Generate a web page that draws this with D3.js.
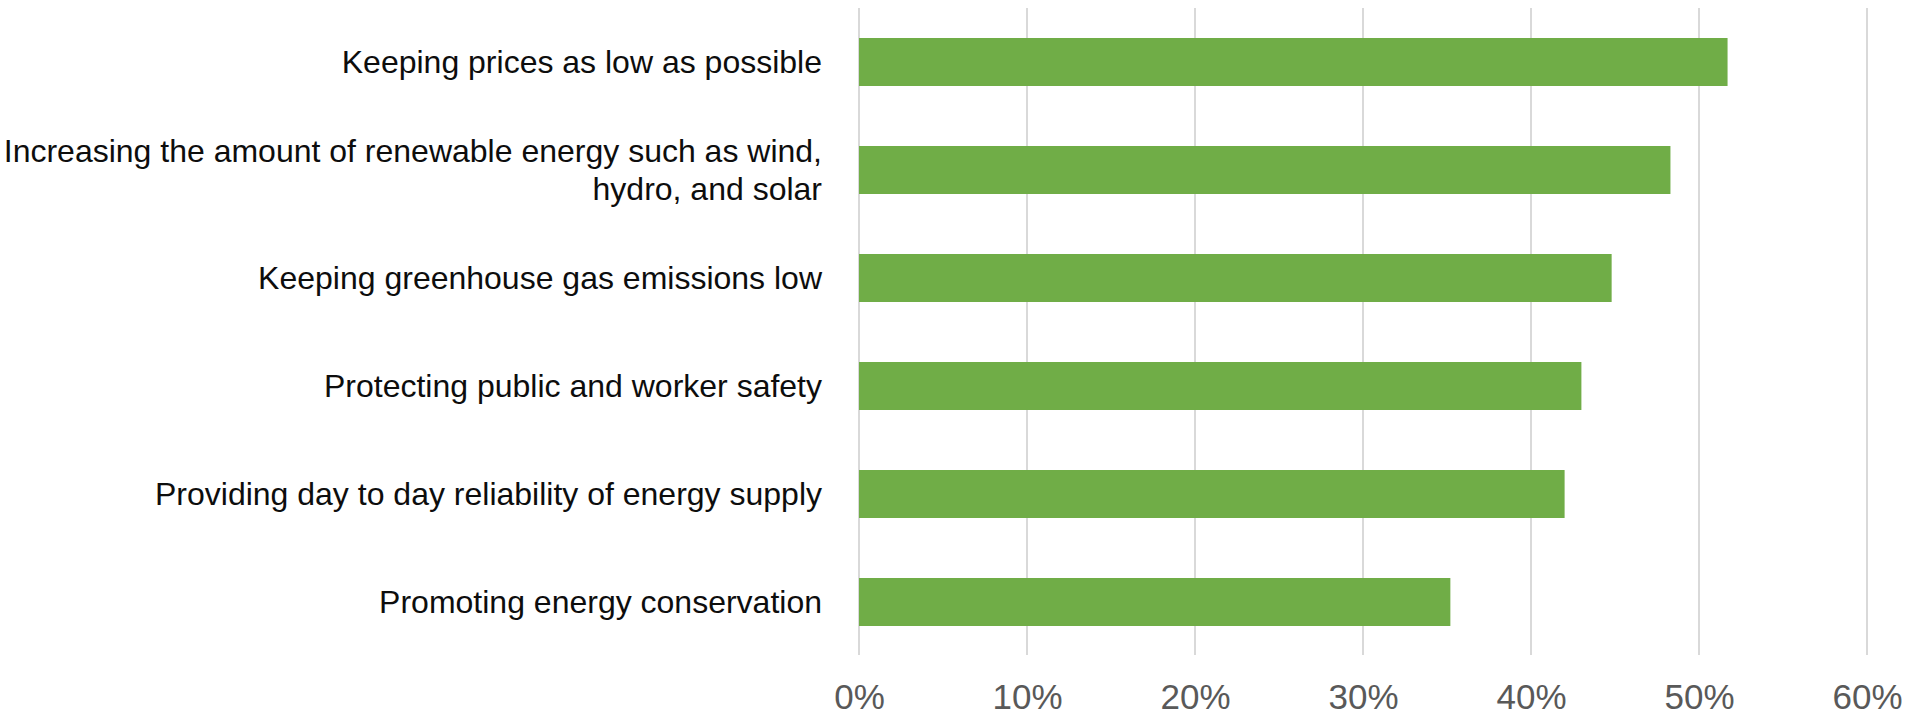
<!DOCTYPE html>
<html>
<head>
<meta charset="utf-8">
<script src="https://cdn.jsdelivr.net/npm/d3@7"></script>
<style>
  html, body { margin: 0; padding: 0; background: #ffffff; }
  svg { display: block; }
</style>
</head>
<body>
<svg id="chart" width="1909" height="718"></svg>
<script>
// Priorities for the energy system, share of respondents
const categories = [
  "Keeping prices as low as possible",
  "Increasing the amount of renewable energy such as wind, hydro, and solar",
  "Keeping greenhouse gas emissions low",
  "Protecting public and worker safety",
  "Providing day to day reliability of energy supply",
  "Promoting energy conservation"
];
// Wrapped label lines for each category
const labelLines = [
  ["Keeping prices as low as possible"],
  ["Increasing the amount of renewable energy such as wind,", "hydro, and solar"],
  ["Keeping greenhouse gas emissions low"],
  ["Protecting public and worker safety"],
  ["Providing day to day reliability of energy supply"],
  ["Promoting energy conservation"]
];
const values = [0.517, 0.483, 0.448, 0.430, 0.420, 0.352];
const tickValues = [0, 0.1, 0.2, 0.3, 0.4, 0.5, 0.6];

const svg = d3.select("#chart");
const font = "'Liberation Sans', Arial, sans-serif";

const x = d3.scaleLinear().domain([0, 0.6]).range([859, 1867]);
const y = d3.scaleBand()
  .domain(categories)
  .range([8, 656])
  .paddingInner(0.5556)
  .paddingOuter(0.2778);

// Vertical gridlines
svg.append("g")
  .selectAll("line")
  .data(tickValues)
  .join("line")
  .attr("x1", d => x(d))
  .attr("x2", d => x(d))
  .attr("y1", 8)
  .attr("y2", 655)
  .attr("stroke", "#d9d9d9")
  .attr("stroke-width", 2);

// Bars
svg.append("g")
  .selectAll("rect")
  .data(values)
  .join("rect")
  .attr("x", x(0))
  .attr("y", (d, i) => y(categories[i]))
  .attr("width", d => x(d) - x(0))
  .attr("height", y.bandwidth())
  .attr("fill", "#70ad47");

// X axis tick labels
const xAxis = d3.axisBottom(x)
  .tickValues(tickValues)
  .tickSize(0)
  .tickPadding(0)
  .tickFormat(d3.format(".0%"));

const gx = svg.append("g")
  .call(xAxis);
gx.select(".domain").remove();
gx.selectAll("text")
  .attr("y", 709)
  .attr("dy", null)
  .attr("font-family", font)
  .attr("font-size", 35)
  .attr("fill", "#595959");

// Category labels, right aligned left of the plot
const labels = svg.append("g")
  .selectAll("text")
  .data(categories)
  .join("text")
  .attr("text-anchor", "end")
  .attr("font-family", font)
  .attr("font-size", 32)
  .attr("fill", "#0d0d0d");

const lineHeight = 38;
labels.each(function(d, i) {
  const lines = labelLines[i];
  const cy = y(d) + y.bandwidth() / 2;
  const startY = cy - (lines.length - 1) * lineHeight / 2 + 11;
  d3.select(this).selectAll("tspan")
    .data(lines)
    .join("tspan")
    .attr("x", 822)
    .attr("y", (t, j) => startY + j * lineHeight)
    .text(t => t);
});
</script>
</body>
</html>
